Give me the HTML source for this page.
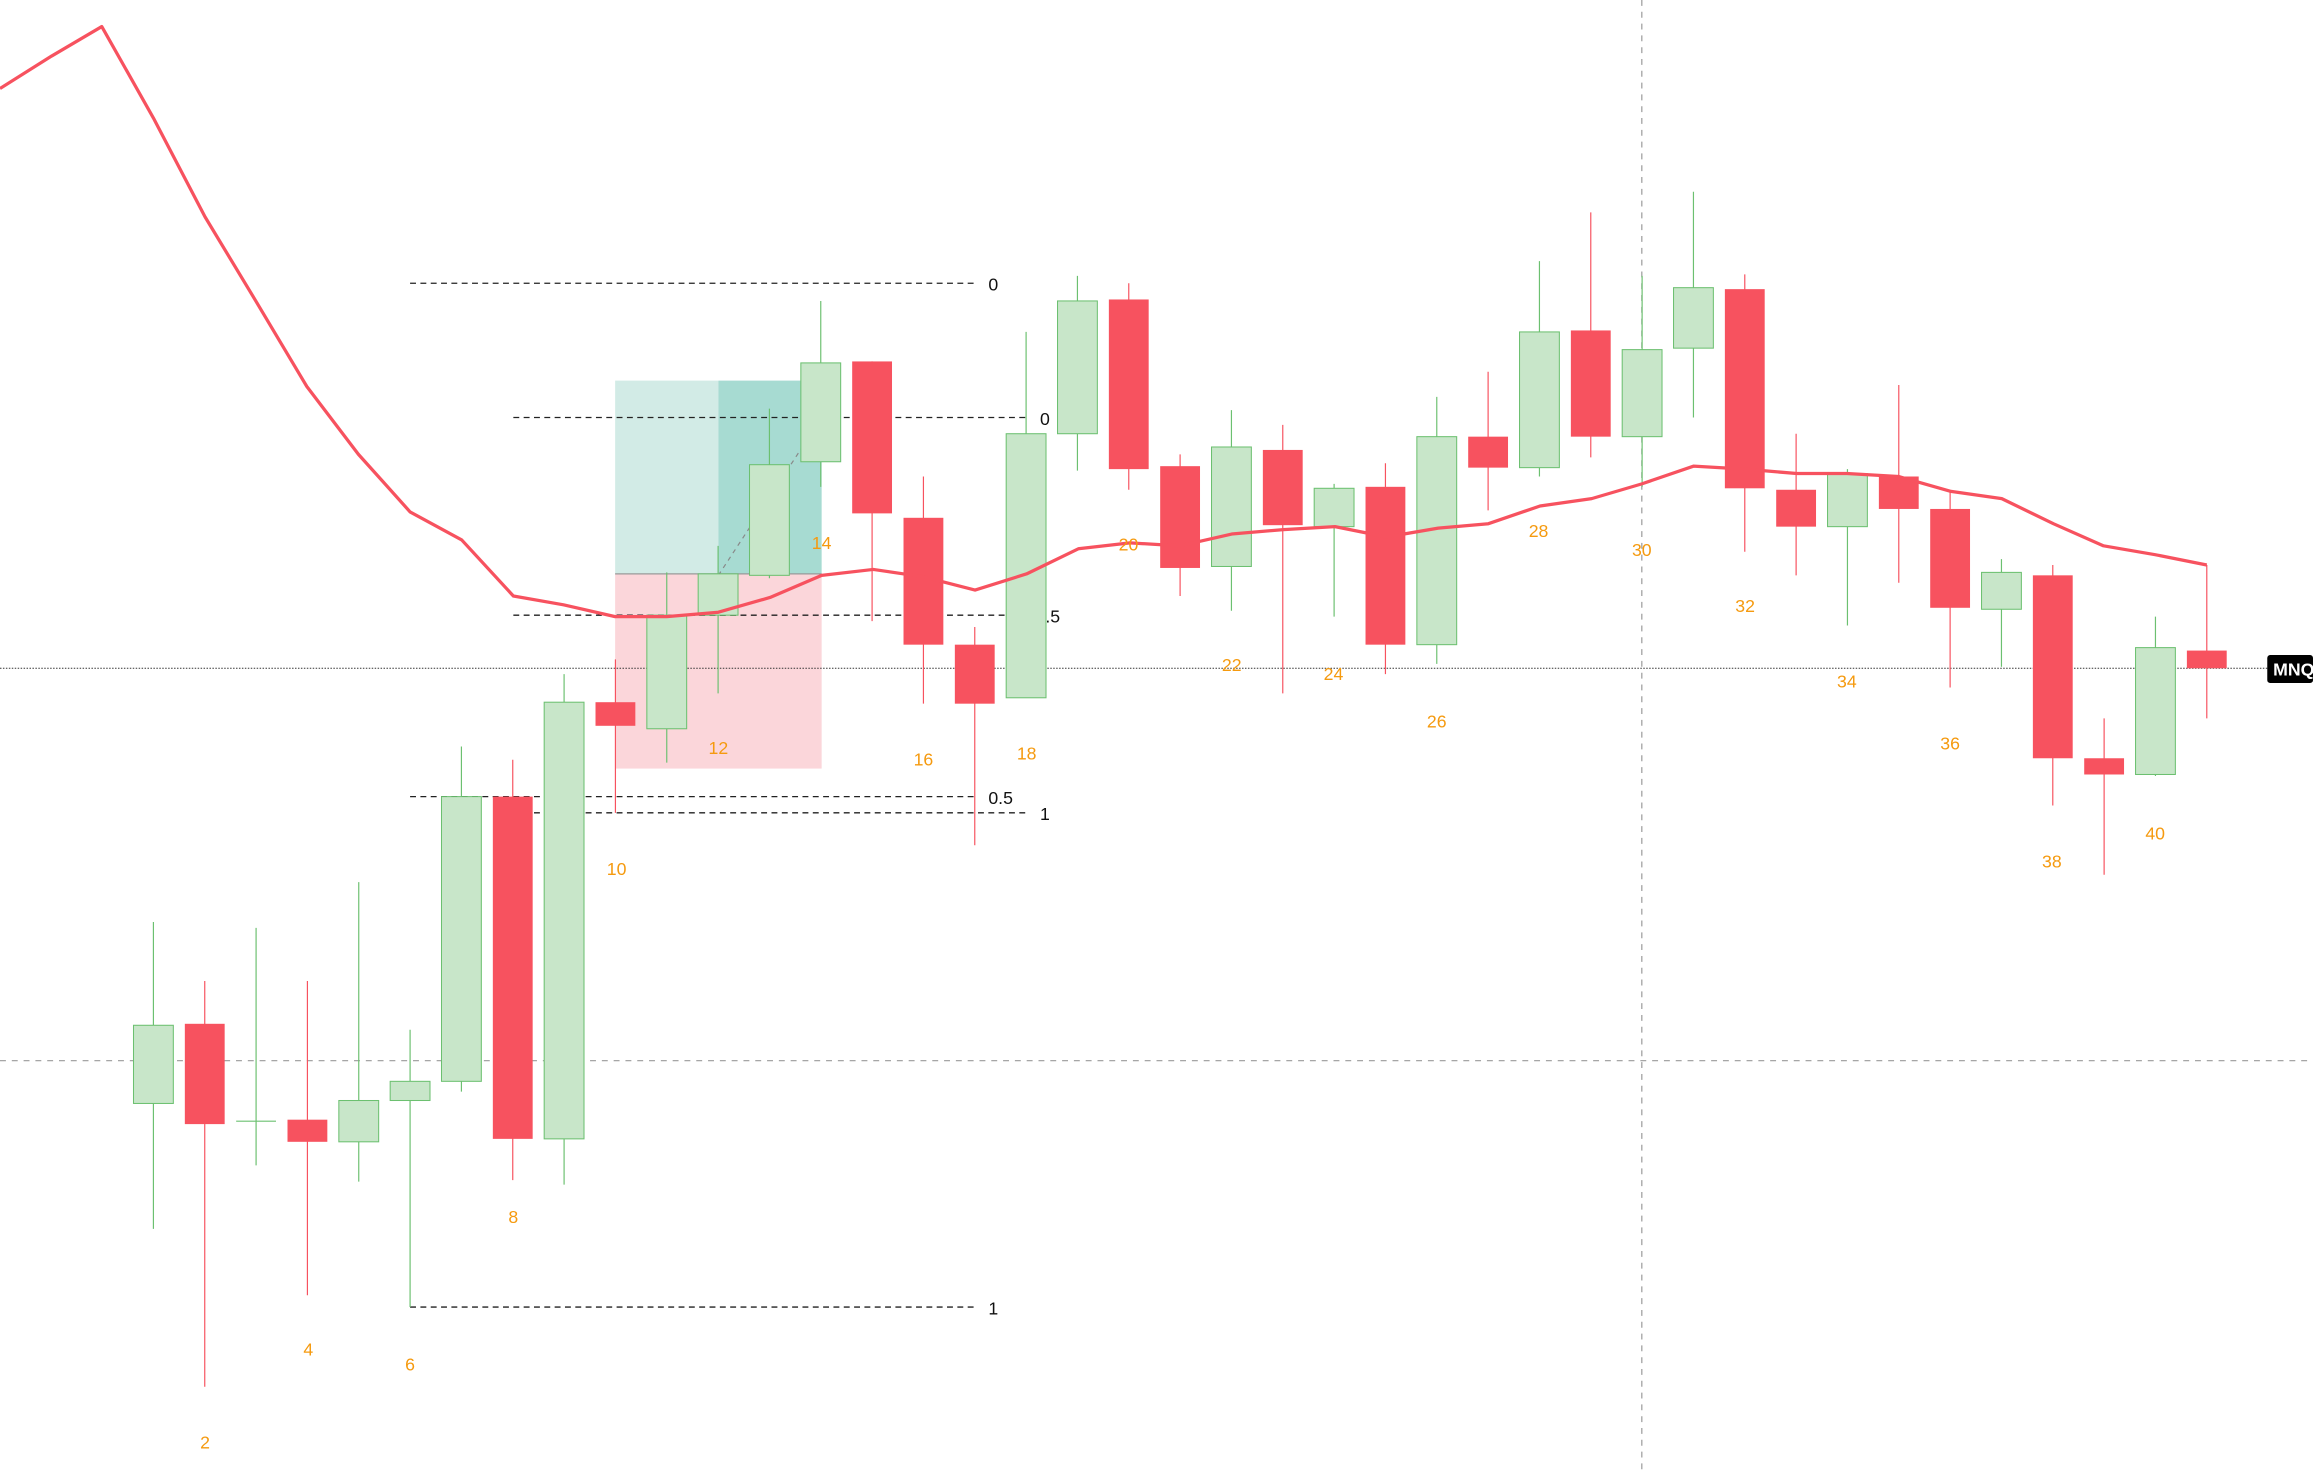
<!DOCTYPE html>
<html><head><meta charset="utf-8"><style>
html,body{margin:0;padding:0;background:#fff;width:2313px;height:1473px;overflow:hidden}
svg{display:block}
text{font-family:"Liberation Sans","DejaVu Sans",sans-serif}
</style></head><body>
<svg id="c" width="2313" height="1473" viewBox="0 0 1568 998.5" preserveAspectRatio="none" xmlns="http://www.w3.org/2000/svg">
<rect x="0" y="0" width="1568" height="998.5" fill="#fff"/>
<!-- position boxes -->
<rect x="417" y="258" width="70" height="131" fill="#d2ebe6"/>
<rect x="487" y="258" width="70" height="131" fill="#a7dbd2"/>
<rect x="417" y="389" width="140" height="132" fill="#fbd6da"/>
<line x1="417" y1="389" x2="557" y2="389" stroke="#999" stroke-width="0.8"/>
<line x1="487" y1="390" x2="557" y2="283" stroke="#888" stroke-width="0.8" stroke-dasharray="3,3"/>
<!-- crosshair -->
<line x1="1113" y1="0" x2="1113" y2="998.5" stroke="#999" stroke-width="0.8" stroke-dasharray="4,4"/>
<line x1="0" y1="719" x2="1568" y2="719" stroke="#999" stroke-width="0.8" stroke-dasharray="4,4"/>
<line x1="0" y1="453" x2="1537" y2="453" stroke="#333" stroke-width="0.7" stroke-dasharray="1,1"/>
<!-- fib lines -->
<g stroke="#222" stroke-width="0.9" stroke-dasharray="4,3">
<line x1="278" y1="192" x2="662" y2="192"/>
<line x1="278" y1="540" x2="662" y2="540"/>
<line x1="278" y1="886" x2="662" y2="886"/>
<line x1="348" y1="283" x2="697" y2="283"/>
<line x1="348" y1="417" x2="697" y2="417"/>
<line x1="348" y1="551" x2="697" y2="551"/>
</g>
<g font-size="12" fill="#111">
<text x="670" y="197">0</text>
<text x="670" y="545">0.5</text>
<text x="670" y="891">1</text>
<text x="705" y="288">0</text>
<text x="702" y="422">0.5</text>
<text x="705" y="556">1</text>
</g>
<g id="candles"></g>
<polyline fill="none" stroke="#f7525f" stroke-width="2.2" stroke-linejoin="round" points="0,60 35,38 69,18 104,80 139,147 174,205 208,262 243,308 278,347 313,366 348,404 382,410 417,418 452,418 487,415 522,405 557,390 592,386 626,391 661,400 696,389 731,372 766,368 800,370 835,362 870,359 905,357 940,364 975,358 1009,355 1044,343 1079,338 1113,328 1148,316 1183,318 1218,321 1252,321 1287,323 1322,333 1357,338 1392,355 1426,370 1461,376 1496,383"/>
<g font-size="12" fill="#f59a0f" text-anchor="middle">
<text x="139" y="982">2</text>
<text x="209" y="919">4</text>
<text x="278" y="929">6</text>
<text x="348" y="829">8</text>
<text x="418" y="593">10</text>
<text x="487" y="511">12</text>
<text x="557" y="372">14</text>
<text x="626" y="519">16</text>
<text x="696" y="515">18</text>
<text x="765" y="373">20</text>
<text x="835" y="455">22</text>
<text x="904" y="461">24</text>
<text x="974" y="493">26</text>
<text x="1043" y="364">28</text>
<text x="1113" y="377">30</text>
<text x="1183" y="415">32</text>
<text x="1252" y="466">34</text>
<text x="1322" y="508">36</text>
<text x="1391" y="588">38</text>
<text x="1461" y="569">40</text>
</g>
<rect x="1537" y="444" width="31" height="19" rx="2" fill="#000"/>
<text x="1541" y="458" font-size="12" font-weight="bold" fill="#fff">MNQ</text>
</svg>
<script>
var d=[
['g',695,748,625,833],['r',694,762,665,940],['g',760,760,629,790],['r',759,774,665,878],
['g',746,774,598,801],['g',733,746,698,886],['g',540,733,506,740],['r',540,772,515,800],
['g',476,772,457,803],['r',476,492,447,551],['g',417,494,388,517],['g',389,417,370,470],
['g',315,390,277,392],['g',246,313,204,330],['r',245,348,245,421],['r',351,437,323,477],
['r',437,477,425,573],['g',294,473,225,473],['g',204,294,187,319],['r',203,318,192,332],
['r',316,385,308,404],['g',303,384,278,414],['r',305,356,288,470],['g',331,357,328,418],
['r',330,437,314,457],['g',296,437,269,450],['r',296,317,252,346],['g',225,317,177,323],
['r',224,296,144,310],['g',237,296,187,330],['g',195,236,130,283],['r',196,331,186,374],
['r',332,357,294,390],['g',321,357,318,424],['r',323,345,261,395],['r',345,412,332,466],
['g',388,413,379,452],['r',390,514,383,546],['r',514,525,487,593],['g',439,525,418,526],
['r',441,453,383,487]];
var s='',ns='http://www.w3.org/2000/svg';
d.forEach(function(c,i){
 var x=104+i*34.8, g=c[0]=='g';
 var col=g?'#6cc070':'#f7525f', fill=g?'#c8e6c9':'#f7525f';
 s+='<line x1="'+x+'" y1="'+c[3]+'" x2="'+x+'" y2="'+c[4]+'" stroke="'+col+'" stroke-width="0.8"/>';
 var h=Math.max(c[2]-c[1],0.8);
 if(c[2]==c[1]) s+='<line x1="'+(x-13.5)+'" y1="'+c[1]+'" x2="'+(x+13.5)+'" y2="'+c[1]+'" stroke="'+col+'" stroke-width="0.8"/>';
 else s+='<rect x="'+(x-13.5)+'" y="'+c[1]+'" width="27" height="'+h+'" fill="'+fill+'" stroke="'+(g?col:'none')+'" stroke-width="0.7"/>';
});
document.getElementById('candles').innerHTML=s;
</script>
</body></html>
